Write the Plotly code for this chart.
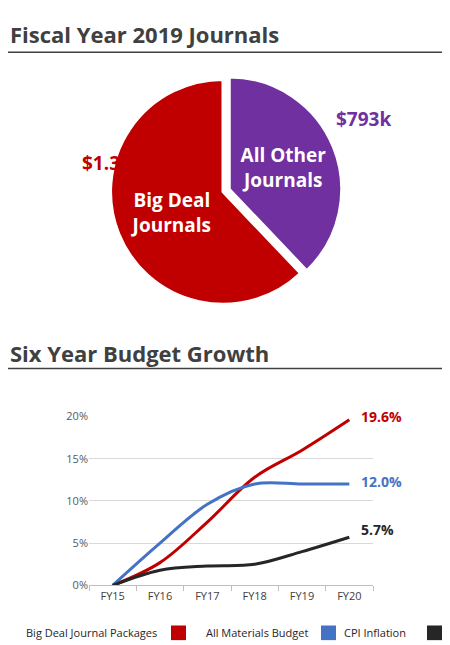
import plotly.graph_objects as go

# pie data
pie_labels = ["<b>All Other<br>Journals</b>", "<b>Big Deal<br>Journals</b>"]
pie_values = [793, 1300]
pie_amounts = ["$793k", "$1.3m"]
pie_colors = ["#7030a0", "#c00000"]

# line data
years = ["FY15", "FY16", "FY17", "FY18", "FY19", "FY20"]
big_deal = [0, 2.7, 7.5, 12.8, 16.0, 19.6]
all_materials = [0, 5.0, 9.6, 12.0, 12.0, 12.0]
cpi = [0, 1.8, 2.3, 2.5, 4.0, 5.7]
series_names = ["Big Deal Journal Packages", "All Materials Budget", "CPI Inflation"]
series_colors = ["#c00000", "#4472c4", "#262626"]

W, H = 450, 645
def py(px):
    return 1 - px / H

fig = go.Figure()

fig.add_trace(go.Pie(
    labels=pie_labels, values=pie_values, sort=False, direction="clockwise", rotation=0,
    pull=[0.06, 0], marker=dict(colors=pie_colors, line=dict(color="white", width=3)),
    textinfo="label", textposition="inside", insidetextorientation="horizontal",
    textfont=dict(family="Open Sans", size=19, color="white"),
    domain=dict(x=[90 / W, 340 / W], y=[py(302), py(58)]), showlegend=False, hoverinfo="skip"))

for vals, name, col in zip([big_deal, all_materials, cpi], series_names, series_colors):
    fig.add_trace(go.Scatter(x=years, y=vals, mode="lines", name=name,
                             line=dict(color=col, width=3, shape="spline"), showlegend=False))
    fig.add_annotation(x=years[-1], y=vals[-1], text="<b>%.1f%%</b>" % vals[-1], showarrow=False,
                       xanchor="left", xshift=10, yshift=3 if col != "#262626" else 8,
                       font=dict(family="Open Sans", size=14, color=col))

fig.update_xaxes(domain=[81 / W, 365 / W], range=[-0.5, 5.5], showgrid=False, showline=True,
                 linecolor="#bfbfbf", ticks="outside", tickson="boundaries", tickcolor="#bfbfbf",
                 ticklen=5, tickfont=dict(family="Open Sans", size=11, color="#404040"))
fig.update_yaxes(domain=[py(583), py(410)], range=[0, 20], dtick=5, ticksuffix="%",
                 gridcolor="#d9d9d9", zeroline=False, tickfont=dict(family="Open Sans", size=11, color="#595959"))

# pie amounts
fig.add_annotation(x=72 / W, y=py(150), xref="paper", yref="paper", text="<b>$1.3m</b>", showarrow=False,
                   yanchor="middle", font=dict(family="Open Sans", size=19, color=pie_colors[1]))
fig.add_annotation(x=385 / W, y=py(105), xref="paper", yref="paper", text="<b>$793k</b>", showarrow=False,
                   yanchor="middle", font=dict(family="Open Sans", size=19, color=pie_colors[0]))

# section titles
for text, ty, ly in [("Fiscal Year 2019 Journals", 18, 37), ("Six Year Budget Growth", 345, 361)]:
    fig.add_annotation(x=0, y=py(ty), xref="paper", yref="paper", text="<b>" + text + "</b>",
                       showarrow=False, xanchor="left", yanchor="middle",
                       font=dict(family="Open Sans", size=22, color="#404040"))
    fig.add_shape(type="line", xref="paper", yref="paper", x0=0, x1=443 / W, y0=py(ly), y1=py(ly),
                  line=dict(color="#404040", width=1.5))

# legend
legend_x = [16, 196, 334]
square_x = [163, 313, 419]
for name, col, lx, sx in zip(series_names, series_colors, legend_x, square_x):
    fig.add_annotation(x=lx / W, y=py(631), xref="paper", yref="paper", text=name, showarrow=False,
                       xanchor="left", yanchor="middle", font=dict(family="Open Sans", size=11, color="#262626"))
    fig.add_shape(type="rect", xref="paper", yref="paper", x0=sx / W, x1=(sx + 15) / W,
                  y0=py(639), y1=py(624), fillcolor=col, line=dict(width=0))

fig.update_layout(width=W, height=H, margin=dict(l=0, r=0, t=0, b=0),
                  paper_bgcolor="white", plot_bgcolor="white")
fig.write_html("out.html")
